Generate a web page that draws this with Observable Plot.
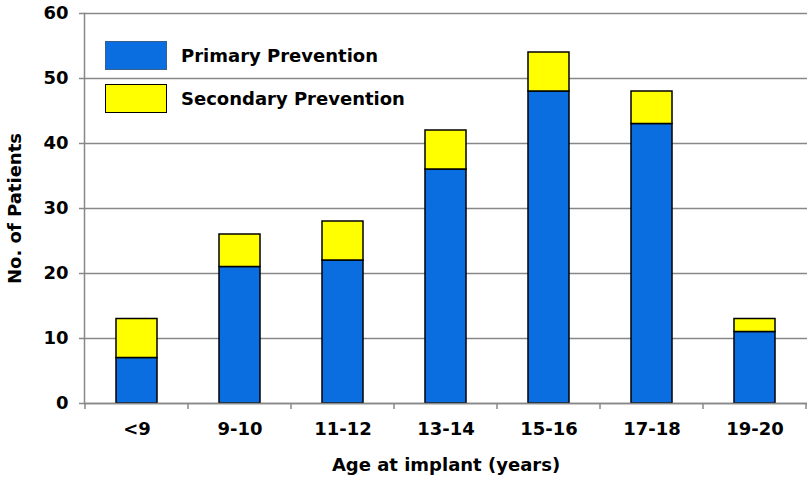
<!DOCTYPE html>
<html>
<head>
<meta charset="utf-8">
<script src="https://cdn.jsdelivr.net/npm/d3@7"></script>
<script src="https://cdn.jsdelivr.net/npm/@observablehq/plot@0.6"></script>
<style>
  html, body { margin: 0; padding: 0; background: #fff; }
  #wrap { position: relative; width: 812px; height: 481px; }
  .legend { position: absolute; left: 105px; top: 40px; font-family: "DejaVu Sans", sans-serif; font-weight: bold; font-size: 18px; color: #000; }
  .item { display: flex; align-items: center; height: 30px; margin-bottom: 13px; }
  .sw { width: 62px; height: 29px; border: 1px solid #000; box-sizing: border-box; margin-right: 14px; }
</style>
</head>
<body>
<div id="wrap"></div>
<script>
const categories = ["<9", "9-10", "11-12", "13-14", "15-16", "17-18", "19-20"];
const primary = [7, 21, 22, 36, 48, 43, 11];
const secondary = [6, 5, 6, 6, 6, 5, 2];
const seriesNames = ["Primary Prevention", "Secondary Prevention"];
const seriesColors = ["#0a6de0", "#ffff00"];
const yTicks = [0, 10, 20, 30, 40, 50, 60];

const rows = [];
categories.forEach((c, i) => {
  rows.push({cat: c, series: seriesNames[0], value: primary[i]});
  rows.push({cat: c, series: seriesNames[1], value: secondary[i]});
});

const plot = Plot.plot({
  width: 812,
  height: 481,
  marginLeft: 84,
  marginRight: 5,
  marginTop: 13,
  marginBottom: 78,
  style: {fontFamily: "DejaVu Sans, sans-serif", fontWeight: "bold", fontSize: "18px", color: "#000", background: "#fff"},
  x: {domain: categories, paddingInner: 0.6, paddingOuter: 0.3},
  y: {domain: [0, 60]},
  color: {domain: seriesNames, range: seriesColors},
  marks: [
    Plot.gridY(yTicks, {stroke: "#888", strokeOpacity: 1, strokeWidth: 1.5}),
    Plot.frame({anchor: "left", stroke: "#888", strokeWidth: 1.5}),
    Plot.barY(rows, {x: "cat", y: "value", fill: "series", stroke: "#000", strokeWidth: 1.5, order: seriesNames}),
    Plot.ruleY([0], {stroke: "#888", strokeWidth: 1.5}),
    Plot.axisY(yTicks, {tickSize: 5, tickPadding: 11, stroke: "#888", strokeWidth: 1.5, label: "No. of Patients", labelArrow: "none", labelAnchor: "center", labelOffset: 76, fontWeight: "bold", fontSize: 18}),
    Plot.axisX({tickSize: 0, tickPadding: 19, label: "Age at implant (years)", labelArrow: "none", labelAnchor: "center", labelOffset: 67, fontWeight: "bold", fontSize: 18})
  ]
});

// boundary ticks on x axis from the band scale
const xs = plot.scale("x");
const ys = plot.scale("y");
const step = xs.step;
const y0 = ys.apply(0);
const svg = d3.select(plot.tagName === "svg" ? plot : plot.querySelector("svg"));
const bounds = categories.map(c => xs.apply(c) - (step - xs.bandwidth) / 2);
bounds.push(bounds[bounds.length - 1] + step);
svg.append("g").selectAll("line").data(bounds).join("line")
  .attr("x1", d => d).attr("x2", d => d)
  .attr("y1", y0).attr("y2", y0 + 6)
  .attr("stroke", "#888").attr("stroke-width", 1.5);
// strip any label arrows
svg.selectAll("text").each(function() {
  const t = this.textContent;
  if (/[↑→]/.test(t)) this.textContent = t.replace(/\s*[↑→]\s*/g, "").trim();
});

const wrap = document.getElementById("wrap");
wrap.appendChild(plot);
const legend = document.createElement("div");
legend.className = "legend";
seriesNames.forEach((n, i) => {
  const it = document.createElement("div");
  it.className = "item";
  const sw = document.createElement("div");
  sw.className = "sw";
  sw.style.background = seriesColors[i];
  if (i === 0) sw.style.borderColor = "#3a5f8a";
  const t = document.createElement("span");
  t.textContent = n;
  it.appendChild(sw); it.appendChild(t);
  legend.appendChild(it);
});
wrap.appendChild(legend);
</script>
</body>
</html>
